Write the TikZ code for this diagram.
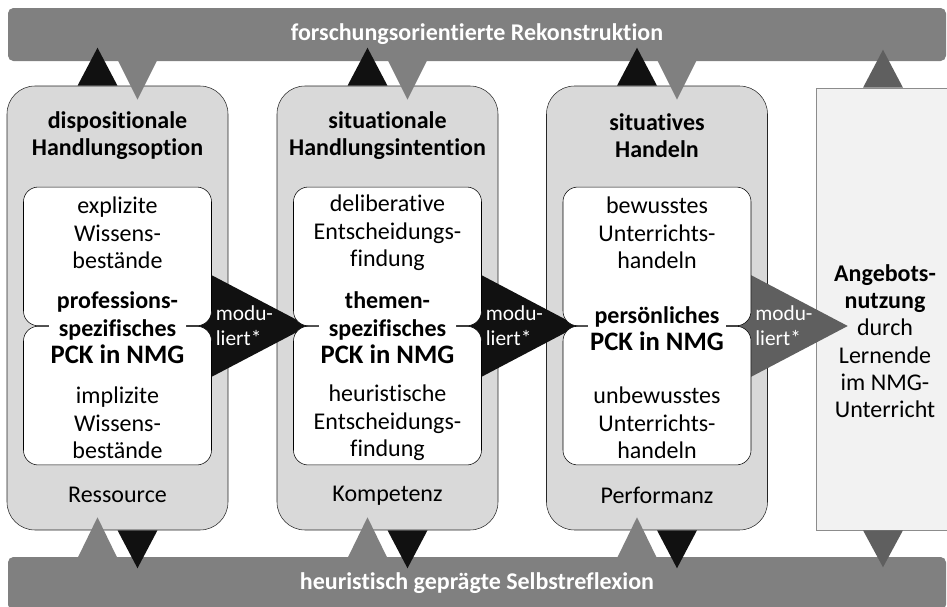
\documentclass[tikz,border=0pt]{standalone}
\usepackage{fontspec}
\setmainfont{Carlito}[Ligatures=NoCommon]
\usetikzlibrary{positioning,calc}

\definecolor{bargray}{HTML}{808080}
\definecolor{colgray}{HTML}{D9D9D9}
\definecolor{tridark}{HTML}{5F5F5F}
\definecolor{triblack}{HTML}{111111}
\definecolor{offergray}{HTML}{F2F2F2}

\tikzset{
  bar/.style={fill=bargray, rounded corners=4pt, text=white, inner sep=0pt,
    minimum width=703.5pt, minimum height=39.75pt,
    font=\bfseries\fontsize{18}{21}\selectfont},
  colbox/.style={draw=black!85, fill=colgray, rounded corners=21pt, inner sep=0pt,
    minimum width=165.75pt, minimum height=333pt},
  halfbox/.style={draw=black, fill=white, rounded corners=11pt, inner sep=0pt,
    minimum width=141pt, minimum height=104pt},
  titel/.style={align=center, font=\bfseries\fontsize{18}{20.5}\selectfont},
  body/.style={align=center, font=\fontsize{18}{20.5}\selectfont},
  pck/.style={fill=white, inner sep=1.5pt, align=center,
    font=\bfseries\fontsize{18}{20.5}\selectfont},
  modtext/.style={text=white, anchor=west, inner sep=0pt, align=left,
    font=\fontsize{16}{18.5}\selectfont},
}

\begin{document}
\begin{tikzpicture}[x=0.75pt, y=-0.75pt]
\useasboundingbox (0,0) rectangle (947,607);

% bars top and bottom
\node[bar] (reko) at (477,34.5) {forschungsorientierte Rekonstruktion};
\node[bar] (refl) at (477,583.5) {heuristisch geprägte Selbstreflexion};

% columns
\node[colbox] (c1) at (117.5,308) {};
\node[colbox] (c2) at (387.5,308) {};
\node[colbox] (c3) at (657,308) {};
\node[draw=black!45, fill=offergray, inner sep=0pt,
  minimum width=100.5pt, minimum height=331.5pt] (c4) at (883,309) {};

\coordinate (j1) at ($(c1.center)+(0,18)$);
\coordinate (j2) at ($(c2.center)+(0,18)$);
\coordinate (j3) at ($(c3.center)+(0,18)$);

% moduliert arrows
\fill[triblack] ($(j1)+(69,-64)$) -- ($(j1)+(69,64)$) -- ($(j2)+(-79,0)$) -- cycle;
\fill[triblack] ($(j2)+(69,-64)$) -- ($(j2)+(69,64)$) -- ($(j3)+(-79,0)$) -- cycle;
\fill[tridark] ($(j3)+(69,-64)$) -- ($(j3)+(69,64)$) -- ($(c4.west |- j3)+(32,0)$) -- cycle;

% inner boxes
\node[halfbox, anchor=south] (u1) at (j1) {};
\node[halfbox, anchor=north] (l1) at (j1) {};
\node[halfbox, anchor=south] (u2) at (j2) {};
\node[halfbox, anchor=north] (l2) at (j2) {};
\node[halfbox, anchor=south] (u3) at (j3) {};
\node[halfbox, anchor=north] (l3) at (j3) {};

% column 1
\node[titel] (titel1) at ($(c1.north)+(0,50)$) {dispositionale\\Handlungsoption};
\node[body] (oben1) at ($(j1)+(0,-93)$) {explizite\\Wissens-\\bestände};
\node[pck] (pck1) at ($(j1)+(0,2)$) {professions-\\spezifisches\\{\fontsize{20}{22}\selectfont PCK in NMG}};
\node[body] (unten1) at ($(j1)+(0,97)$) {implizite\\Wissens-\\bestände};
\node[body] (ebene1) at ($(c1.south)+(0,-35)$) {Ressource};

% column 2
\node[titel] (titel2) at ($(c2.north)+(0,50)$) {situationale\\Handlungsintention};
\node[body] (oben2) at ($(j2)+(0,-93)$) {deliberative\\Entscheidungs-\\findung};
\node[pck] (pck2) at ($(j2)+(0,2)$) {themen-\\spezifisches\\{\fontsize{20}{22}\selectfont PCK in NMG}};
\node[body] (unten2) at ($(j2)+(0,97)$) {heuristische\\Entscheidungs-\\findung};
\node[body] (ebene2) at ($(c2.south)+(0,-35)$) {Kompetenz};

% column 3
\node[titel] (titel3) at ($(c3.north)+(0,50)$) {situatives\\Handeln};
\node[body] (oben3) at ($(j3)+(0,-93)$) {bewusstes\\Unterrichts-\\handeln};
\node[pck] (pck3) at ($(j3)+(0,3)$) {persönliches\\{\fontsize{20}{22}\selectfont PCK in NMG}};
\node[body] (unten3) at ($(j3)+(0,97)$) {unbewusstes\\Unterrichts-\\handeln};
\node[body] (ebene3) at ($(c3.south)+(0,-35)$) {Performanz};

% column 4
\node[body] (nutzung) at ($(c4.center)+(2,32)$)
  {\textbf{Angebots-}\\\textbf{nutzung}\\durch\\Lernende\\im NMG-\\Unterricht};

% moduliert labels
\node[modtext] (mod1) at ($(j1)+(98,0)$) {modu-\\liert*};
\node[modtext] (mod2) at ($(j2)+(98,0)$) {modu-\\liert*};
\node[modtext] (mod3) at ($(j3)+(98,0)$) {modu-\\liert*};

% small arrows to and from the bars
\fill[triblack] ($(c1.north)+(-40,0)$) -- (c1.north) -- ($(c1.north)+(-20,-38)$) -- cycle;
\fill[bargray] ($(c1.north)+(0,-26)$) -- ($(c1.north)+(40,-26)$) -- ($(c1.north)+(20,14)$) -- cycle;
\fill[triblack] ($(c2.north)+(-40,0)$) -- (c2.north) -- ($(c2.north)+(-20,-38)$) -- cycle;
\fill[bargray] ($(c2.north)+(0,-26)$) -- ($(c2.north)+(40,-26)$) -- ($(c2.north)+(20,14)$) -- cycle;
\fill[triblack] ($(c3.north)+(-40,0)$) -- (c3.north) -- ($(c3.north)+(-20,-38)$) -- cycle;
\fill[bargray] ($(c3.north)+(0,-26)$) -- ($(c3.north)+(40,-26)$) -- ($(c3.north)+(20,14)$) -- cycle;
\fill[tridark] ($(c4.north)+(-20,0)$) -- ($(c4.north)+(20,0)$) -- ($(c4.north)+(0,-38)$) -- cycle;

\fill[bargray] ($(c1.south)+(-40,28)$) -- ($(c1.south)+(0,28)$) -- ($(c1.south)+(-20,-13)$) -- cycle;
\fill[triblack] (c1.south) -- ($(c1.south)+(40,0)$) -- ($(c1.south)+(20,38)$) -- cycle;
\fill[bargray] ($(c2.south)+(-40,28)$) -- ($(c2.south)+(0,28)$) -- ($(c2.south)+(-20,-13)$) -- cycle;
\fill[triblack] (c2.south) -- ($(c2.south)+(40,0)$) -- ($(c2.south)+(20,38)$) -- cycle;
\fill[bargray] ($(c3.south)+(-40,28)$) -- ($(c3.south)+(0,28)$) -- ($(c3.south)+(-20,-13)$) -- cycle;
\fill[triblack] (c3.south) -- ($(c3.south)+(40,0)$) -- ($(c3.south)+(20,38)$) -- cycle;
\fill[tridark] ($(c4.south)+(-20,0)$) -- ($(c4.south)+(20,0)$) -- ($(c4.south)+(0,37)$) -- cycle;
\end{tikzpicture}
\end{document}
